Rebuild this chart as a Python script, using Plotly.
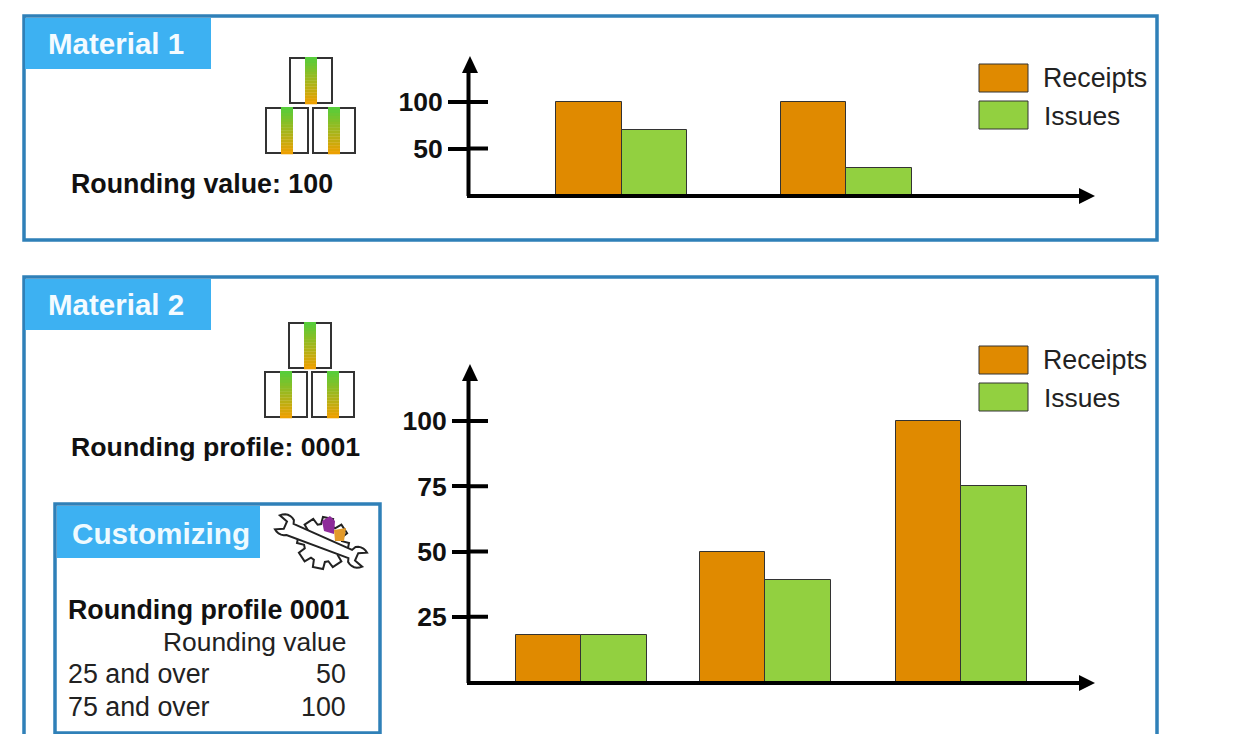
import numpy as np
import plotly.graph_objects as go

W, H = 1233, 734
FONT = "Liberation Sans"

# ---- data ----
series_names = ["Receipts", "Issues"]
m1_receipts = [100, 100]
m1_issues = [70, 29]
m1_ticks = [50, 100]
m2_receipts = [18, 50, 100]
m2_issues = [18, 39, 75]
m2_ticks = [25, 50, 75, 100]
rounding_rows = [("25 and over", "50"), ("75 and over", "100")]

# ---- layout constants (pixels) ----
ORANGE, GREEN = "#e08a00", "#92d040"
BORDER, BLUE = "#2f80b8", "#3db1f2"
BAR_W = 65.5
m1_centres = [621.5, 846]
m2_centres = [581, 765, 961]


def px(x):
    return x / W


def py(y):
    return 1 - y / H


shapes, annos = [], []


def rect(x0, y0, x1, y1, fill="rgba(0,0,0,0)", line=None, lw=0):
    shapes.append(dict(type="rect", xref="paper", yref="paper", x0=px(x0), x1=px(x1),
                       y0=py(y1), y1=py(y0), fillcolor=fill,
                       line=dict(color=line or fill, width=lw), layer="below"))


def seg(x0, y0, x1, y1, color="#000", lw=4):
    shapes.append(dict(type="line", xref="paper", yref="paper", x0=px(x0), x1=px(x1),
                       y0=py(y0), y1=py(y1), line=dict(color=color, width=lw), layer="above"))


def poly(points, fill, line="rgba(0,0,0,0)", lw=0):
    d = "M " + " L ".join(f"{px(a):.5f},{py(b):.5f}" for a, b in points) + " Z"
    shapes.append(dict(type="path", xref="paper", yref="paper", path=d, fillcolor=fill,
                       line=dict(color=line, width=lw), layer="above"))


def text(x, y, s, size=24, color="#111", bold=False, anchor="left"):
    annos.append(dict(xref="paper", yref="paper", x=px(x), y=py(y), text=f"<b>{s}</b>" if bold else s,
                      showarrow=False, xanchor=anchor, yanchor="middle", borderpad=0,
                      font=dict(family=FONT, size=size, color=color)))


# panels
rect(24, 16, 1157, 240, "#ffffff", BORDER, 3.5)
rect(24, 277, 1157, 770, "#ffffff", BORDER, 3.5)
rect(25, 18, 211, 69, BLUE)
rect(25, 279, 211, 330, BLUE)
text(47, 43.5, "Material 1", 29.5, "#f4fbff", True)
text(47, 304.5, "Material 2", 29.5, "#f4fbff", True)


# stacked box icons
def box(x0, y0):
    w, h = 42, 45
    rect(x0, y0, x0 + w, y0 + h, "#ffffff", "#333333", 2)
    top_c, bot_c = np.array([88, 205, 58]), np.array([236, 160, 0])
    n, sw, total = 16, 12, 47
    left = x0 + (w - sw) / 2
    for i in range(n):
        c = top_c + (bot_c - top_c) * i / (n - 1)
        col = "rgb(%d,%d,%d)" % tuple(c)
        t0, t1 = y0 - 1 + i * total / n, y0 - 1 + (i + 1) * total / n + 0.3
        poly([(left, t0), (left + sw, t0), (left + sw, t1), (left, t1)], col)


for bx, by in [(290, 58), (266, 108), (313, 108), (289, 323), (265, 372), (312, 372)]:
    box(bx, by)

text(70, 184, "Rounding value: 100", 26.8, "#111", True)
text(70, 447, "Rounding profile: 0001", 26.7, "#111", True)

# customizing box
rect(55, 504, 380, 733, "#ffffff", BORDER, 3.5)
rect(57, 506, 260, 558, BLUE)
text(71, 533, "Customizing", 29.7, "#eefaff", True)
text(67, 610, "Rounding profile 0001", 26.8, "#111", True)
text(346.5, 642, "Rounding value", 26.4, "#222", anchor="right")
for i, (lab, val) in enumerate(rounding_rows):
    text(67, 674 + i * 33, lab, 26.8, "#222")
    text(346.5, 674 + i * 33, val, 26.8, "#222", anchor="right")

# gear & wrench icon
gc = (323, 543)
pts = []
for k in range(8):
    a0 = k * np.pi / 4 + 0.2
    for da, r in [(-0.30, 19), (-0.20, 26), (0.20, 26), (0.30, 19)]:
        pts.append((gc[0] + r * np.cos(a0 + da), gc[1] + r * np.sin(a0 + da)))
poly(pts, "#ffffff", "#222222", 2)
poly([(322, 521), (330, 516), (335, 521), (334, 534), (324, 531)], "#8e2a9a")
poly([(334, 530), (346, 528), (344, 541), (335, 541)], "#e39a2a")
head = []
for deg in np.arange(40, 325, 15):
    a = np.radians(deg)
    head.append((40 + 10.5 * np.cos(a), 10.5 * np.sin(a)))
r_head = [(a, b) for a, b in head if a >= 33]
upper = sorted([p for p in r_head if p[1] < 0], key=lambda p: p[0])
lower = sorted([p for p in r_head if p[1] >= 0], key=lambda p: -p[0])
outline = [(-32, -4.5), (32, -4.5)] + upper + [(39, -4), (39, 4)] + lower + [(32, 4.5)]
outline += [(-a, -b) for a, b in outline[2:-1]]
ang = np.radians(24)
poly([(321 + a * np.cos(ang) - b * np.sin(ang), 541 + a * np.sin(ang) + b * np.cos(ang)) for a, b in outline],
     "#ffffff", "#222222", 2)

# legends
for ly0 in (64, 346):
    rect(979, ly0, 1028, ly0 + 28, ORANGE, "#333333", 1)
    rect(979, ly0 + 37, 1028, ly0 + 65, GREEN, "#333333", 1)
    text(1042, ly0 + 14, series_names[0], 26.8, "#222")
    text(1043, ly0 + 52, series_names[1], 26.4, "#222")

fig = go.Figure()


def add_chart(xa, ya, centres, rec, iss, ticks, origin_y, top_y, scale):
    for vals, color, off, name in [(rec, ORANGE, -BAR_W, series_names[0]), (iss, GREEN, 0, series_names[1])]:
        fig.add_trace(go.Bar(x=centres, y=vals, width=BAR_W, offset=off, name=name, xaxis=xa, yaxis=ya,
                             marker=dict(color=color, line=dict(color="#333333", width=1)), showlegend=False))
    # axis arrows
    seg(468.5, origin_y + 1, 468.5, top_y + 10)
    seg(467, origin_y + 1, 1084, origin_y + 1)
    poly([(470, top_y - 4), (462, top_y + 13), (478, top_y + 13)], "#000")
    poly([(1095, origin_y + 1), (1079, origin_y - 7), (1079, origin_y + 9)], "#000")
    # inner half of the crossing ticks
    for t in ticks:
        shapes.append(dict(type="line", xref="paper", yref=ya, x0=px(468), x1=px(488), y0=t, y1=t,
                           line=dict(color="#000", width=4), layer="above"))
    return (top_y, origin_y, (origin_y - top_y) / scale)


m1 = add_chart("x", "y", m1_centres, m1_receipts, m1_issues, m1_ticks, 195, 60, 0.93)
m2 = add_chart("x2", "y2", m2_centres, m2_receipts, m2_issues, m2_ticks, 682, 368, 2.61)


def yax(info, ticks, ticklen):
    top, org, ymax = info
    return dict(domain=[py(org), py(top)], range=[0, ymax], tickmode="array", tickvals=ticks,
                ticktext=[str(t) for t in ticks], ticks="outside", ticklen=ticklen, tickwidth=4, tickcolor="#000",
                showgrid=False, zeroline=False, showline=False,
                tickfont=dict(family=FONT, size=26.5, color="#111", weight="bold"))


def xax(y_name):
    return dict(domain=[px(468), px(1096)], range=[468, 1096], visible=False, anchor=y_name, fixedrange=True)


y1 = yax(m1, m1_ticks, 19)
y1["anchor"] = "x"
y2 = yax(m2, m2_ticks, 15)
y2["anchor"] = "x2"

fig.update_layout(width=W, height=H, margin=dict(l=0, r=0, t=0, b=0), autosize=False,
                  paper_bgcolor="#ffffff", plot_bgcolor="rgba(0,0,0,0)", showlegend=False,
                  xaxis=xax("y"), xaxis2=xax("y2"), yaxis=y1, yaxis2=y2,
                  shapes=shapes, annotations=annos, bargap=0)
fig.write_html("out.html", config={"displayModeBar": False},
               post_script="document.body.style.margin='0';document.body.style.overflow='hidden';")
